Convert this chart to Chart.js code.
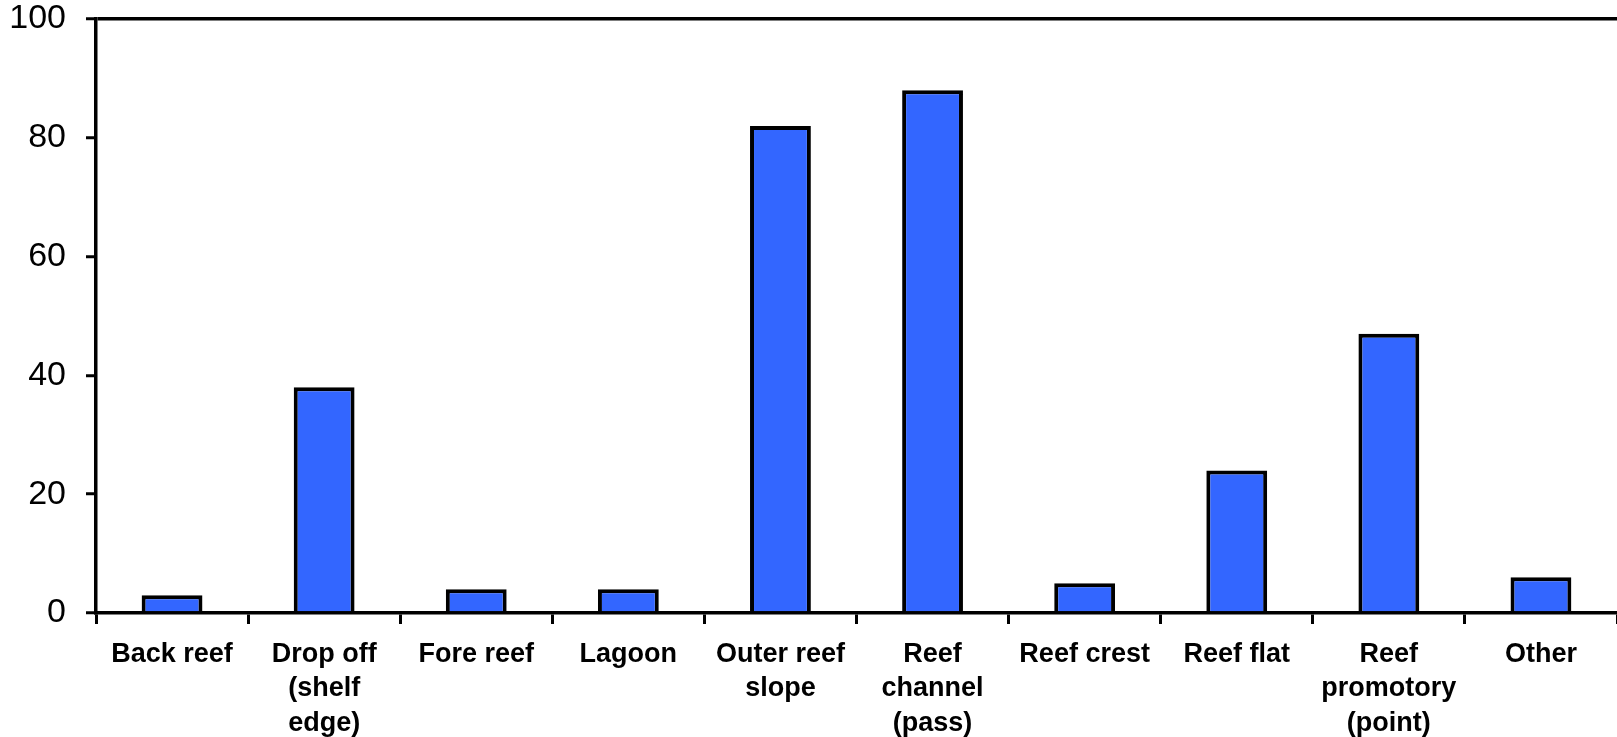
<!DOCTYPE html>
<html>
<head>
<meta charset="utf-8">
<script src="https://cdn.jsdelivr.net/npm/chart.js@4/dist/chart.umd.min.js"></script>
<style>
    html, body { margin: 0; padding: 0; background: #fff; overflow: hidden; }
    #wrap { width: 1617px; height: 737px; }
</style>
</head>
<body>
<div id="wrap"><canvas id="habitatChart" width="1617" height="737"></canvas></div>
<script>
const habitats = [
    'Back reef',
    ['Drop off', '(shelf', 'edge)'],
    'Fore reef',
    'Lagoon',
    ['Outer reef', 'slope'],
    ['Reef', 'channel', '(pass)'],
    'Reef crest',
    'Reef flat',
    ['Reef', 'promotory', '(point)'],
    'Other'
];
const counts = [3, 38, 4, 4, 82, 88, 5, 24, 47, 6];
const yTicks = [0, 20, 40, 60, 80, 100];

const FONT = '"Liberation Sans", Arial, sans-serif';

new Chart('habitatChart', {
    type: 'bar',
    data: {
        labels: habitats,
        datasets: [{
            data: counts,
            backgroundColor: '#3366FF',
            borderColor: '#000',
            borderWidth: 4,
            categoryPercentage: 1,
            barPercentage: 0.4
        }]
    },
    options: {
        responsive: false,
        animation: false,
        layout: { padding: { top: 0, left: 10, right: 0, bottom: 0 } },
        plugins: {
            legend: { display: false },
            tooltip: { enabled: false }
        },
        scales: {
            x: {
                offset: true,
                afterFit: (axis) => {
                    axis.height = 124;
                    axis.paddingLeft = 0;
                    axis.paddingRight = 0;
                },
                grid: {
                    offset: true,
                    color: 'rgba(0,0,0,0)',
                    tickColor: '#000',
                    tickWidth: 3,
                    tickLength: 11
                },
                border: { color: '#000', width: 3.5 },
                ticks: {
                    color: '#000',
                    padding: 14,
                    maxRotation: 0,
                    autoSkip: false,
                    font: { family: FONT, size: 27, weight: 'bold', lineHeight: 1.26 }
                }
            },
            y: {
                min: 0,
                max: 100,
                afterFit: (axis) => {
                    axis.width = 86;
                    axis.paddingTop = 19;
                    axis.paddingBottom = 0;
                },
                afterBuildTicks: (axis) => { axis.ticks = yTicks.map(v => ({ value: v })); },
                grid: {
                    color: (ctx) => ctx.tick && ctx.tick.value === 100 ? '#000' : 'rgba(0,0,0,0)',
                    lineWidth: 3.5,
                    tickColor: '#000',
                    tickWidth: 3,
                    tickLength: 10
                },
                border: { color: '#000', width: 3.5 },
                ticks: {
                    color: '#000',
                    padding: 20,
                    font: { family: FONT, size: 34 }
                }
            }
        }
    }
});
</script>
</body>
</html>
